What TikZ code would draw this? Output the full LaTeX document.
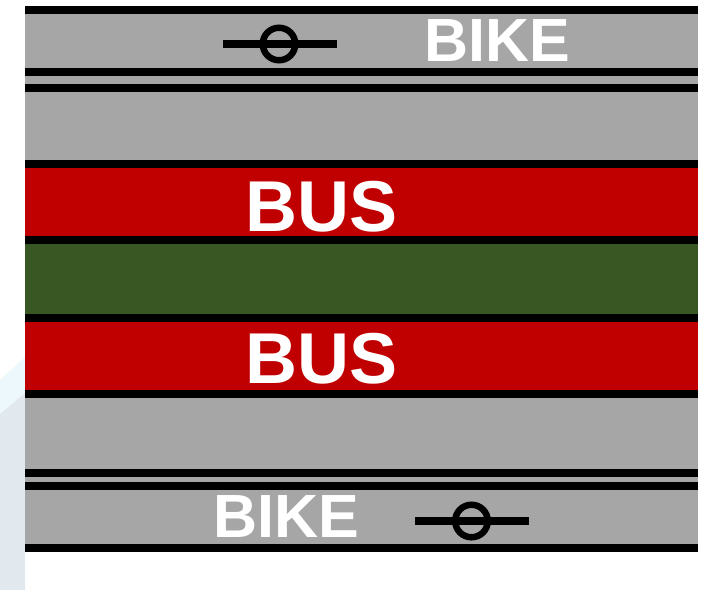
\documentclass[tikz,border=0pt]{standalone}
\usepackage{fontspec}
\setmainfont{Liberation Sans}
\definecolor{lanegray}{HTML}{A6A6A6}
\definecolor{busred}{HTML}{C00000}
\definecolor{mediangreen}{HTML}{385723}
\definecolor{palesky}{HTML}{EDF8FC}
\definecolor{palegray}{HTML}{E2E9EE}
\tikzset{
  kerbline/.style = {line width=7.5pt, black},
  lanetext/.style = {text=white, font=\bfseries\fontsize{72}{72}\selectfont, inner sep=0pt},
  biketext/.style = {text=white, font=\bfseries\fontsize{61}{61}\selectfont, inner sep=0pt},
  bikebar/.style = {line width=7.5pt, black},
  bikering/.style = {draw, circle, line width=6.5pt, minimum size=32.5pt, inner sep=0pt}
}
\begin{document}
\begin{tikzpicture}[x=1pt, y=-1pt]
  \useasboundingbox (0,0) rectangle (704,590);

  % pale backdrop on the left
  \fill[palesky] (0,380) -- (25,357) -- (25,393) -- (0,414) -- cycle;
  \fill[palegray] (0,414) -- (25,393) -- (25,590) -- (0,590) -- cycle;

  % lanes
  \fill[lanegray] (25,10) rectangle (698,164);
  \fill[busred] (25,164) rectangle (698,240);
  \fill[mediangreen] (25,240) rectangle (698,318);
  \fill[busred] (25,318) rectangle (698,394);
  \fill[lanegray] (25,394) rectangle (698,548);

  % lines
  \foreach \ypos in {10,72,88,164,240,318,394,473,486,548}
    \draw[kerbline] (25,\ypos) -- (698,\ypos);

  % labels
  \node[biketext] at (497,41) (biketop) {BIKE};
  \node[lanetext] at (322,207) (bustop) {BUS};
  \node[lanetext] at (322,359) (busbottom) {BUS};
  \node[biketext] at (286,517) (bikebottom) {BIKE};

  % bicycle marks
  \node[bikering] at (279,44) (ringtop) {};
  \coordinate (bartopl) at (223,44);
  \coordinate (bartopr) at (337,44);
  \draw[bikebar] (bartopl) -- (bartopr);

  \node[bikering] at (471.5,521) (ringbottom) {};
  \coordinate (barbottoml) at (415,521);
  \coordinate (barbottomr) at (529,521);
  \draw[bikebar] (barbottoml) -- (barbottomr);
\end{tikzpicture}
\end{document}
